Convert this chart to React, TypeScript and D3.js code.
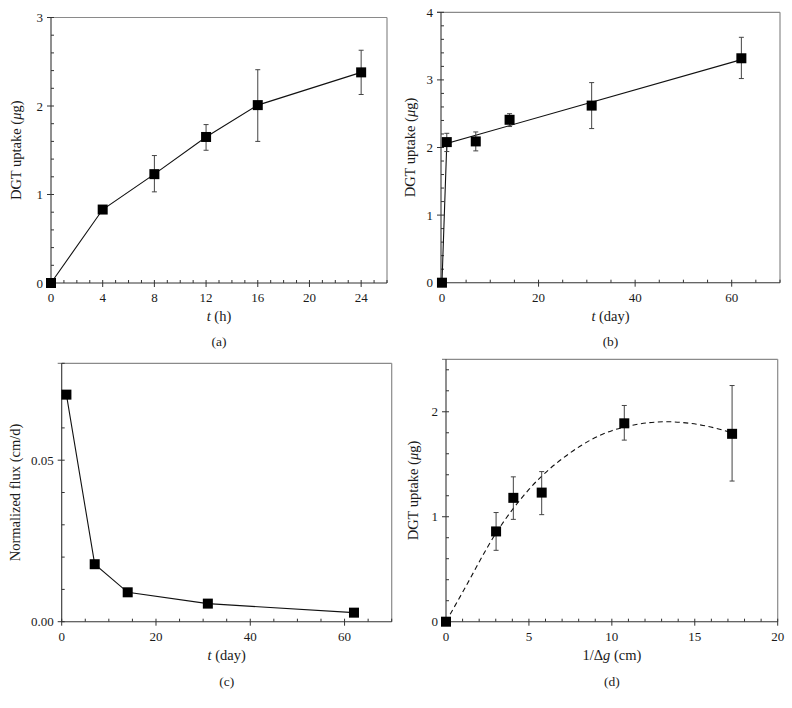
import React from "react";
import * as d3 from "d3";

// ---------- Data ----------
// (a)
const aTime = [0, 4, 8, 12, 16, 24];
const aUptake = [0, 0.83, 1.23, 1.65, 2.01, 2.38];
const aErrLow = [0, 0.8, 1.03, 1.5, 1.6, 2.13];
const aErrHigh = [0, 0.86, 1.44, 1.79, 2.41, 2.63];
// (b)
const bTime = [0, 1, 7, 14, 31, 62];
const bUptake = [0, 2.08, 2.09, 2.41, 2.62, 3.32];
const bErrLow = [0, 1.94, 1.95, 2.31, 2.28, 3.02];
const bErrHigh = [0, 2.21, 2.23, 2.5, 2.96, 3.63];
const bFitTime = [0, 1, 62];
const bFitUptake = [0, 2.06, 3.3];
// (c)
const cTime = [1, 7, 14, 31, 62];
const cFlux = [0.0703, 0.0178, 0.0091, 0.0056, 0.0028];
// (d)
const dInvGap = [0, 3.02, 4.06, 5.77, 10.75, 17.25];
const dUptake = [0, 0.86, 1.18, 1.23, 1.89, 1.79];
const dErrLow = [0, 0.68, 0.975, 1.02, 1.73, 1.34];
const dErrHigh = [0, 1.04, 1.38, 1.43, 2.06, 2.25];
const dFitX = [0, 1, 3, 5, 7.5, 10, 13.3, 15.5, 17.25];
const dFitY = [0, 0.28, 0.84, 1.26, 1.61, 1.82, 1.905, 1.87, 1.8];

// tick definitions
const aXMajor = [0, 4, 8, 12, 16, 20, 24];
const aYMajor = [0, 1, 2, 3];
const bXMajor = [0, 20, 40, 60];
const bYMajor = [0, 1, 2, 3, 4];
const cXMajor = [0, 20, 40, 60];
const cYMajor = [0, 0.05];
const cYLabels = ["0.00", "0.05"];
const dXMajor = [0, 5, 10, 15, 20];
const dYMajor = [0, 1, 2];

const FONT = "'Liberation Serif', 'Times New Roman', serif";
const TEXT = "#1a1a1a";
const LABEL_SIZE = 14.5;

type PanelProps = {
  left: number; right: number; top: number; bottom: number;
  xDomain: [number, number]; yDomain: [number, number];
  xMajor: number[]; xMinorStep: number;
  yMajor: number[]; yMinorStep: number;
  yLabels?: string[];
  xLabel: React.ReactNode; yLabel: React.ReactNode; caption: string;
  yLabelX: number; xLabelY: number; captionY: number;
  xs: number[]; ys: number[];
  errLow?: number[]; errHigh?: number[];
  lineX: number[]; lineY: number[]; dashed?: boolean; smooth?: boolean;
};

function Panel(p: PanelProps) {
  const x = d3.scaleLinear().domain(p.xDomain).range([p.left, p.right]);
  const y = d3.scaleLinear().domain(p.yDomain).range([p.bottom, p.top]);
  const xMinor = d3.range(
    Math.ceil(p.xDomain[0] / p.xMinorStep) * p.xMinorStep,
    p.xDomain[1] + 1e-9,
    p.xMinorStep
  ).filter((v) => !p.xMajor.some((m) => Math.abs(m - v) < 1e-9));
  const yMinor = d3.range(p.yDomain[0], p.yDomain[1] + 1e-9, p.yMinorStep)
    .filter((v) => !p.yMajor.some((m) => Math.abs(m - v) < 1e-9));
  const line = d3.line<number>()
    .x((_, i) => x(p.lineX[i]))
    .y((_, i) => y(p.lineY[i]))
    .curve(p.smooth ? d3.curveMonotoneX : d3.curveLinear);
  const cx = (p.left + p.right) / 2;
  const cy = (p.top + p.bottom) / 2;
  const sq = 10;
  return (
    <g>
      {/* frame top/right */}
      <line x1={p.left - 4} x2={p.right} y1={p.top} y2={p.top} stroke="#8a8a8a" strokeWidth={1.2} />
      <line x1={p.right} x2={p.right} y1={p.top} y2={p.bottom} stroke="#8a8a8a" strokeWidth={1.2} />
      {/* axes */}
      <line x1={p.left} x2={p.right} y1={p.bottom} y2={p.bottom} stroke="#333" strokeWidth={1.1} />
      <line x1={p.left} x2={p.left} y1={p.top} y2={p.bottom} stroke="#333" strokeWidth={1.1} />
      {xMinor.map((v, i) => (
        <line key={"xm" + i} x1={x(v)} x2={x(v)} y1={p.bottom} y2={p.bottom - 3} stroke="#333" />
      ))}
      {p.xMajor.map((v, i) => (
        <g key={"xM" + i}>
          <line x1={x(v)} x2={x(v)} y1={p.bottom + 4} y2={p.bottom - 3} stroke="#333" />
          <text x={x(v)} y={p.bottom + 19} textAnchor="middle" fontSize={13} fontFamily={FONT} fill={TEXT}>
            {v}
          </text>
        </g>
      ))}
      {yMinor.map((v, i) => (
        <line key={"ym" + i} x1={p.left} x2={p.left + 3} y1={y(v)} y2={y(v)} stroke="#333" />
      ))}
      {p.yMajor.map((v, i) => (
        <g key={"yM" + i}>
          <line x1={p.left - 4} x2={p.left + 3} y1={y(v)} y2={y(v)} stroke="#333" />
          <text x={p.left - 8} y={y(v) + 4.5} textAnchor="end" fontSize={13} fontFamily={FONT} fill={TEXT}>
            {p.yLabels ? p.yLabels[i] : v}
          </text>
        </g>
      ))}
      {/* line */}
      <path d={line(p.lineX) || ""} fill="none" stroke="#111" strokeWidth={1.1}
        strokeDasharray={p.dashed ? "5,3.5" : undefined} />
      {/* error bars */}
      {p.errLow && p.errHigh && p.xs.map((v, i) => (
        p.errHigh![i] - p.errLow![i] > 0 ? (
          <g key={"e" + i} stroke="#444" strokeWidth={1}>
            <line x1={x(v)} x2={x(v)} y1={y(p.errLow![i])} y2={y(p.errHigh![i])} />
            <line x1={x(v) - 2.5} x2={x(v) + 2.5} y1={y(p.errLow![i])} y2={y(p.errLow![i])} />
            <line x1={x(v) - 2.5} x2={x(v) + 2.5} y1={y(p.errHigh![i])} y2={y(p.errHigh![i])} />
          </g>
        ) : null
      ))}
      {/* markers */}
      {p.xs.map((v, i) => (
        <rect key={"s" + i} x={x(v) - sq / 2} y={y(p.ys[i]) - sq / 2} width={sq} height={sq} fill="#000" />
      ))}
      {/* labels */}
      <text x={cx} y={p.xLabelY} textAnchor="middle" fontSize={LABEL_SIZE} fontFamily={FONT} fill={TEXT}>
        {p.xLabel}
      </text>
      <text transform={`translate(${p.yLabelX},${cy}) rotate(-90)`} textAnchor="middle" fontSize={LABEL_SIZE}
        fontFamily={FONT} fill={TEXT}>
        {p.yLabel}
      </text>
      <text x={cx} y={p.captionY} textAnchor="middle" fontSize={13.5} fontFamily={FONT} fill={TEXT}>
        {p.caption}
      </text>
    </g>
  );
}

const uptakeLabel = (
  <>
    DGT uptake (<tspan fontStyle="italic">μ</tspan>g)
  </>
);

export default function App() {
  return (
    <svg width={792} height={708} style={{ position: "absolute", left: 0, top: 0, background: "#fff" }}>
      <rect width={792} height={708} fill="#fff" />
      <Panel
        left={51} right={387} top={17.5} bottom={283}
        xDomain={[0, 26]} yDomain={[0, 3]}
        xMajor={aXMajor} xMinorStep={1} yMajor={aYMajor} yMinorStep={0.2}
        xLabel={<><tspan fontStyle="italic">t</tspan> (h)</>}
        yLabel={uptakeLabel} caption="(a)"
        yLabelX={21} xLabelY={321} captionY={346}
        xs={aTime} ys={aUptake} errLow={aErrLow} errHigh={aErrHigh}
        lineX={aTime} lineY={aUptake}
      />
      <Panel
        left={441} right={780} top={12.3} bottom={282.7}
        xDomain={[-0.2, 70]} yDomain={[0, 4]}
        xMajor={bXMajor} xMinorStep={5} yMajor={bYMajor} yMinorStep={0.2}
        xLabel={<><tspan fontStyle="italic">t</tspan> (day)</>}
        yLabel={uptakeLabel} caption="(b)"
        yLabelX={415} xLabelY={321} captionY={346}
        xs={bTime} ys={bUptake} errLow={bErrLow} errHigh={bErrHigh}
        lineX={bFitTime} lineY={bFitUptake}
      />
      <Panel
        left={61.7} right={391.7} top={363.3} bottom={621.7}
        xDomain={[0, 70]} yDomain={[0, 0.08]}
        xMajor={cXMajor} xMinorStep={5} yMajor={cYMajor} yMinorStep={0.01} yLabels={cYLabels}
        xLabel={<><tspan fontStyle="italic">t</tspan> (day)</>}
        yLabel="Normalized flux (cm/d)" caption="(c)"
        yLabelX={20} xLabelY={660} captionY={686}
        xs={cTime} ys={cFlux}
        lineX={cTime} lineY={cFlux}
      />
      <Panel
        left={446} right={777.7} top={359.3} bottom={621.7}
        xDomain={[0, 20]} yDomain={[0, 2.5]}
        xMajor={dXMajor} xMinorStep={1} yMajor={dYMajor} yMinorStep={0.2}
        xLabel={<>1/Δ<tspan fontStyle="italic">g</tspan> (cm)</>}
        yLabel={uptakeLabel} caption="(d)"
        yLabelX={418} xLabelY={660} captionY={686}
        xs={dInvGap} ys={dUptake} errLow={dErrLow} errHigh={dErrHigh}
        lineX={dFitX} lineY={dFitY} dashed smooth
      />
    </svg>
  );
}
